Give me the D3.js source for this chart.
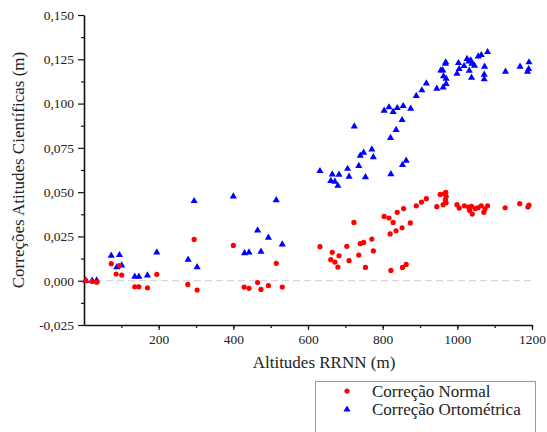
<!DOCTYPE html>
<html><head><meta charset="utf-8">
<script src="https://cdn.jsdelivr.net/npm/d3@7"></script>
<style>
@font-face{font-family:"ChartSerif";src:local("Liberation Serif"),local("LiberationSerif"),local("Liberation Serif Regular"),local("LiberationSerif-Regular"),local("Tinos"),local("Times New Roman");}
body{margin:0;background:#fff}
svg{display:block}
</style>
</head><body><svg id="c" width="547" height="432"></svg>
<script>
const normalAlt = [5,22,34,73,86,95,101,136,147,170,195,278,295,303,400,429,442,465,474,494,515,531,632,661,665,672,680,683,704,710,723,736,740,749,754,771,775,804,817,820,822,828,836,839,852,853,856,863,874,890,904,917,945,954,962,965,969,970,968,970,999,1005,1019,1030,1033,1038,1040,1048,1055,1064,1071,1074,1081,1128,1167,1189,1192];
const normalVal = [0.000,-0.0004,-0.0008,0.0096,0.0038,0.0085,0.0032,-0.0034,-0.0034,-0.0040,0.0036,-0.0021,0.0233,-0.0053,0.0199,-0.0036,-0.0043,-0.0010,-0.0049,-0.0028,0.0098,-0.0036,0.0192,0.0119,0.016,0.0105,0.0077,0.0141,0.0194,0.0113,0.0329,0.0145,0.0209,0.0216,0.0075,0.0235,0.0168,0.0363,0.0354,0.0264,0.0058,0.0329,0.0282,0.0386,0.0299,0.0075,0.0407,0.0092,0.0326,0.0423,0.0444,0.0463,0.0418,0.0487,0.0429,0.0491,0.0499,0.0476,0.0456,0.044,0.0429,0.041,0.0423,0.0416,0.0397,0.042,0.0376,0.0407,0.0412,0.0423,0.0386,0.0405,0.0423,0.0412,0.0435,0.0416,0.0427];
const orthoAlt = [5,22,34,73,88,95,101,136,147,170,195,279,295,303,400,430,442,465,474,494,515,531,632,661,665,672,680,683,706,710,724,736,740,749,754,771,775,804,817,821,822,828,836,839,852,853,855,863,875,890,905,917,945,956,961,962,963,968,969,970,970,999,1003,1005,1018,1026,1031,1032,1036,1038,1039,1046,1056,1064,1073,1072,1072,1081,1129,1168,1188,1191,1192];
const orthoVal = [0.000,0.000,0.0002,0.0141,0.0077,0.0145,0.0086,0.0023,0.0023,0.0030,0.016,0.0119,0.045,0.0077,0.0476,0.0156,0.016,0.0284,0.0164,0.0243,0.0455,0.0205,0.0619,0.0563,0.060,0.0559,0.0536,0.0599,0.0632,0.0587,0.0871,0.0648,0.0706,0.0723,0.0585,0.0741,0.0698,0.096,0.0979,0.0806,0.0602,0.0953,0.0851,0.0975,0.0907,0.0653,0.0986,0.0678,0.0971,0.1043,0.1075,0.1114,0.1084,0.1187,0.1187,0.1091,0.1154,0.1225,0.1233,0.1141,0.1111,0.1169,0.1229,0.1195,0.1212,0.1252,0.1238,0.1186,0.1244,0.1146,0.1225,0.1214,0.1266,0.1274,0.1208,0.1163,0.1137,0.1291,0.118,0.1208,0.118,0.1195,0.1233];
const xTicks = [200,400,600,800,1000,1200];
const xMinor = [100,200,300,400,500,600,700,800,900,1000,1100,1200];
const yTicks = [-0.025,0,0.025,0.05,0.075,0.1,0.125,0.15];
const yMinor = [-0.0125,0.0125,0.0375,0.0625,0.0875,0.1125,0.1375];
const seriesNames = ["Correção Normal","Correção Ortométrica"];
const xTitle = "Altitudes RRNN (m)";
const yTitle = "Correções Atitudes Científicas (m)";

const FONT = "\"Liberation Serif\", ChartSerif, Tinos, \"Times New Roman\"";
const svg = d3.select("#c");
const x = d3.scaleLinear().domain([0,1200]).range([84,532]);
const y = d3.scaleLinear().domain([-0.025,0.15]).range([325,15]);
const fmt = v => d3.format(".3f")(v).replace(".",",").replace("−","-");

svg.append("line").attr("x1",x(0)).attr("x2",x(1200)).attr("y1",y(0)).attr("y2",y(0))
  .attr("stroke","#d8d8d8").attr("stroke-width",1.3).attr("stroke-dasharray","7,4");

svg.append("g").attr("transform",`translate(0,${y(-0.025)})`)
  .call(d3.axisBottom(x).tickValues(xMinor).tickSize(3).tickFormat(""))
  .call(g=>g.select(".domain").remove());
svg.append("g").attr("transform",`translate(${x(0)},0)`)
  .call(d3.axisLeft(y).tickValues(yMinor).tickSize(3).tickFormat(""))
  .call(g=>g.select(".domain").remove());

const gx = svg.append("g").attr("transform",`translate(0,${y(-0.025)})`)
  .call(d3.axisBottom(x).tickValues(xTicks).tickSize(5).tickPadding(4).tickSizeOuter(0).tickFormat(d3.format("d")));
const gy = svg.append("g").attr("transform",`translate(${x(0)},0)`)
  .call(d3.axisLeft(y).tickValues(yTicks).tickSize(6).tickPadding(4).tickSizeOuter(0).tickFormat(fmt));
[gx,gy].forEach(g=>{
  g.attr("font-family",FONT).attr("font-size",13.5);
  g.selectAll("text").style("font-family",FONT).style("font-size","13.5px").attr("fill","#222");
  g.select(".domain").attr("stroke","#111").attr("stroke-width",1.6);
});
svg.selectAll(".tick line").attr("stroke","#111").attr("stroke-width",1.2);

function label(sel){ return sel.attr("font-family",FONT).style("font-family",FONT).style("font-size","17px").attr("fill","#222"); }
label(svg.append("text").attr("x",324).attr("y",368).attr("text-anchor","middle")).text(xTitle);
label(svg.append("text").attr("transform","translate(24,170) rotate(-90)").attr("text-anchor","middle")).text(yTitle);

const normal = normalAlt.map((a,i)=>({a,v:normalVal[i]}));
const ortho = orthoAlt.map((a,i)=>({a,v:orthoVal[i]}));
const tri = d3.symbol().type(d3.symbolTriangle).size(22);
svg.append("g").selectAll("path").data(ortho).join("path")
  .attr("d",tri).attr("transform",d=>`translate(${x(d.a)},${y(d.v)})`).attr("fill","#0000ff");
svg.append("g").selectAll("circle").data(normal).join("circle")
  .attr("cx",d=>x(d.a)).attr("cy",d=>y(d.v)).attr("r",2.6).attr("fill","#ff0000");

const lg = svg.append("g");
lg.append("rect").attr("x",315.5).attr("y",381.5).attr("width",220).attr("height",60)
  .attr("fill","none").attr("stroke","#999").attr("stroke-width",1);
lg.append("circle").attr("cx",347).attr("cy",391).attr("r",2.6).attr("fill","#ff0000");
lg.append("path").attr("d",tri).attr("transform","translate(347,409.5)").attr("fill","#0000ff");
label(lg.append("text").attr("x",372).attr("y",397)).text(seriesNames[0]);
label(lg.append("text").attr("x",372).attr("y",415)).text(seriesNames[1]);
</script></body></html>
